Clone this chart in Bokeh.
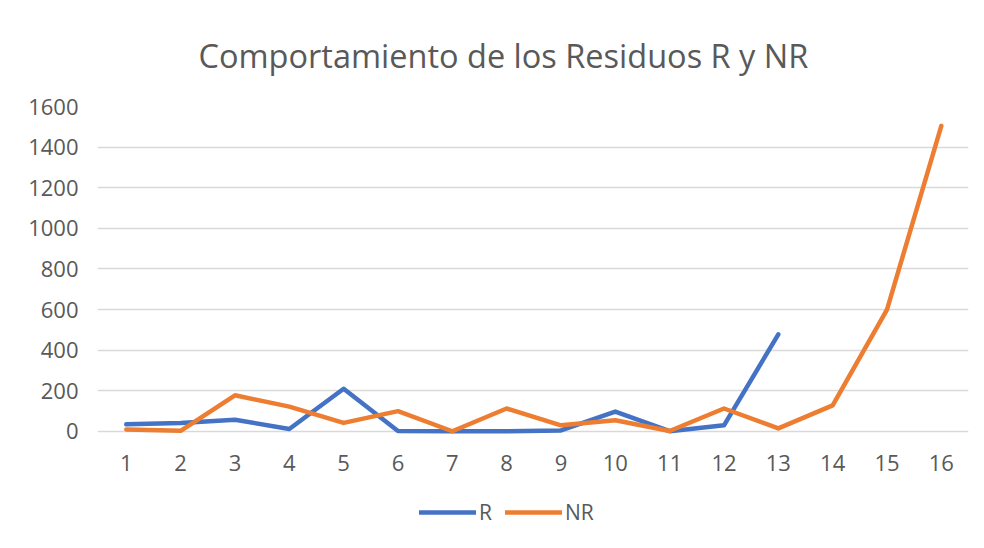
from bokeh.plotting import figure
from bokeh.models import Range1d, Legend, LegendItem, FixedTicker, ColumnDataSource
from bokeh.core.properties import value
from bokeh.embed import file_html
from bokeh.resources import INLINE

categories = list(range(1, 17))
cat_labels = [str(c) for c in categories]
r_x = list(range(1, 14))
r_values = [35, 42, 58, 12, 210, 2, 1, 1, 5, 98, 1, 30, 478]
nr_values = [10, 3, 178, 122, 42, 100, 1, 113, 30, 55, 2, 113, 15, 128, 600, 1505]
y_ticks = [0, 200, 400, 600, 800, 1000, 1200, 1400, 1600]

FONT = "Open Sans"
TXT = "#595959"
GRID = "#d9d9d9"

# frame extends below 0 so that category labels and legend live inside it
p = figure(frame_width=871, frame_height=434, output_backend="svg", toolbar_location=None,
           x_range=Range1d(0.47, 16.5), y_range=Range1d(-537, 1600))
p.min_border_left = 97
p.min_border_right = 8
p.min_border_top = 106
p.min_border_bottom = 0

p.title.text = "Comportamiento de los Residuos R y NR"
p.title.align = "left"
p.title.text_font = FONT
p.title.text_font_size = "32.5px"
p.title.text_font_style = "normal"
p.title.text_color = TXT
p.title.offset = 101
p.title.standoff = 58

p.outline_line_color = None
p.background_fill_color = "white"
p.border_fill_color = "white"

p.xgrid.grid_line_color = None
p.ygrid.ticker = FixedTicker(ticks=y_ticks)
p.ygrid.grid_line_color = GRID
p.ygrid.grid_line_width = 1.5

p.yaxis.ticker = FixedTicker(ticks=y_ticks)
p.yaxis.axis_line_color = None
p.yaxis.major_tick_line_color = None
p.yaxis.minor_tick_line_color = None
p.yaxis.major_label_text_font = FONT
p.yaxis.major_label_text_font_size = "22px"
p.yaxis.major_label_text_color = TXT
p.yaxis.major_label_standoff = 13

p.xaxis.visible = False

# category labels under the zero line
lab_src = ColumnDataSource(dict(x=categories, t=cat_labels))
p.text(x="x", y=0, text="t", source=lab_src, y_offset=32,
       text_align="center", text_baseline="middle",
       text_font=value(FONT), text_font_size="22px", text_color=TXT)

src_r = ColumnDataSource(dict(x=r_x, y=r_values))
src_nr = ColumnDataSource(dict(x=categories, y=nr_values))
lr = p.line("x", "y", source=src_r, line_color="#4472C4", line_width=4.5,
            line_join="round", line_cap="round")
lnr = p.line("x", "y", source=src_nr, line_color="#ED7D31", line_width=4.5,
             line_join="round", line_cap="round")

legend = Legend(items=[LegendItem(label="R", renderers=[lr]),
                       LegendItem(label="NR", renderers=[lnr])],
                orientation="horizontal", location=(322, 14))
legend.label_text_font = FONT
legend.label_text_font_size = "21px"
legend.label_text_color = TXT
legend.glyph_width = 57
legend.glyph_height = 20
legend.label_standoff = 3
legend.spacing = 6
legend.padding = 0
legend.margin = 0
legend.border_line_color = None
legend.background_fill_alpha = 0
p.add_layout(legend, "center")

with open("out.html", "w") as f:
    f.write(file_html(p, INLINE))
